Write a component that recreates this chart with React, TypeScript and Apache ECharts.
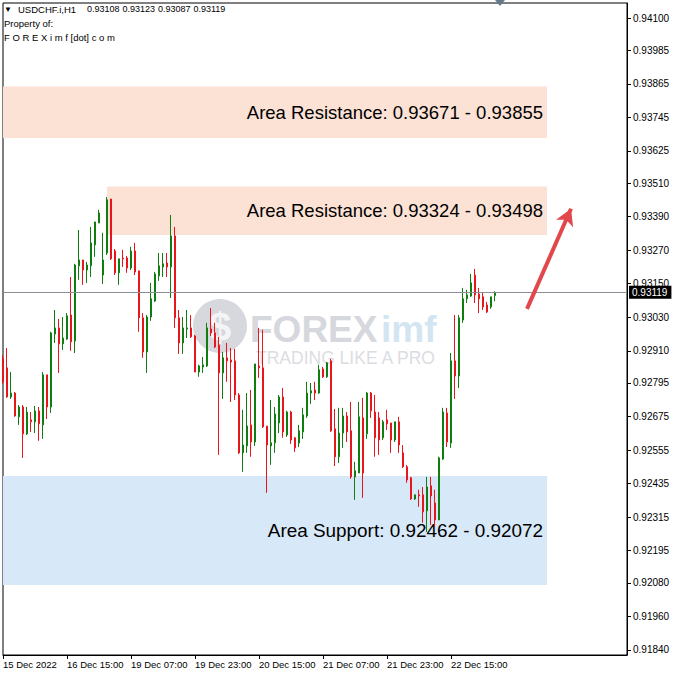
import React, { useEffect, useRef } from "react";
import * as echarts from "echarts";

// ---- Data ----
const opens = [
  0.92881, 0.92849, 0.92745, 0.92759, 0.92674, 0.92709, 0.92613, 0.92663, 0.92656, 0.92695,
  0.92645, 0.92824, 0.92709, 0.92970, 0.92992, 0.92935, 0.92952, 0.93038, 0.92945, 0.93214,
  0.93235, 0.93199, 0.93214, 0.93289, 0.93367, 0.93181, 0.93260, 0.93453, 0.93267, 0.93189,
  0.93242, 0.93242, 0.93206, 0.93267, 0.93196, 0.93028, 0.92906, 0.93031, 0.93088, 0.93178,
  0.93210, 0.93224, 0.93210, 0.93321, 0.93028, 0.92938, 0.92988, 0.92992, 0.92963, 0.92834,
  0.92852, 0.92856, 0.92988, 0.92974, 0.92931, 0.92831, 0.92885, 0.92877, 0.92874, 0.92752,
  0.92545, 0.92570, 0.92645, 0.92584, 0.92856, 0.92849, 0.92641, 0.92570, 0.92581, 0.92652,
  0.92745, 0.92609, 0.92691, 0.92599, 0.92580, 0.92620, 0.92677, 0.92759, 0.92770, 0.92759,
  0.92845, 0.92817, 0.92874, 0.92631, 0.92531, 0.92616, 0.92677, 0.92624, 0.92459, 0.92473,
  0.92670, 0.92613, 0.92759, 0.92691, 0.92670, 0.92599, 0.92663, 0.92652, 0.92591, 0.92656,
  0.92545, 0.92495, 0.92456, 0.92380, 0.92395, 0.92395, 0.92338, 0.92427, 0.92366, 0.92305,
  0.92523, 0.92688, 0.92580, 0.92874, 0.92820, 0.93020, 0.93096, 0.93106, 0.93181, 0.93113,
  0.93103, 0.93074, 0.93067, 0.93108,
];
const highs = [
  0.92895, 0.92920, 0.92834, 0.92762, 0.92716, 0.92716, 0.92709, 0.92691, 0.92713, 0.92709,
  0.92834, 0.92824, 0.92978, 0.93056, 0.93024, 0.93031, 0.93045, 0.93174, 0.93221, 0.93342,
  0.93235, 0.93228, 0.93353, 0.93371, 0.93414, 0.93332, 0.93460, 0.93453, 0.93274, 0.93239,
  0.93271, 0.93249, 0.93282, 0.93296, 0.93196, 0.93045, 0.93038, 0.93153, 0.93192, 0.93260,
  0.93260, 0.93260, 0.93396, 0.93353, 0.93056, 0.93031, 0.93056, 0.93038, 0.92967, 0.92860,
  0.92888, 0.93010, 0.93063, 0.93010, 0.92960, 0.92906, 0.92938, 0.92920, 0.92917, 0.92759,
  0.92699, 0.92759, 0.92770, 0.92863, 0.92992, 0.92985, 0.92641, 0.92734, 0.92709, 0.92752,
  0.92777, 0.92695, 0.92695, 0.92602, 0.92645, 0.92706, 0.92799, 0.92795, 0.92799, 0.92860,
  0.92852, 0.92870, 0.92881, 0.92702, 0.92706, 0.92706, 0.92691, 0.92727, 0.92513, 0.92727,
  0.92742, 0.92763, 0.92763, 0.92752, 0.92691, 0.92663, 0.92699, 0.92652, 0.92656, 0.92674,
  0.92573, 0.92502, 0.92459, 0.92395, 0.92413, 0.92423, 0.92459, 0.92459, 0.92413, 0.92531,
  0.92706, 0.92706, 0.92902, 0.93038, 0.93038, 0.93135, 0.93128, 0.93185, 0.93203, 0.93135,
  0.93117, 0.93085, 0.93103, 0.93123,
];
const lows = [
  0.92792, 0.92742, 0.92738, 0.92674, 0.92645, 0.92527, 0.92609, 0.92620, 0.92616, 0.92588,
  0.92595, 0.92666, 0.92688, 0.92938, 0.92831, 0.92913, 0.92949, 0.92910, 0.92902, 0.93164,
  0.93146, 0.93153, 0.93174, 0.93246, 0.93367, 0.93149, 0.93253, 0.93235, 0.93181, 0.93146,
  0.93210, 0.93189, 0.93199, 0.93181, 0.92978, 0.92885, 0.92831, 0.93017, 0.93085, 0.93160,
  0.93174, 0.93174, 0.93099, 0.92992, 0.92899, 0.92899, 0.92956, 0.92956, 0.92834, 0.92817,
  0.92831, 0.92852, 0.92963, 0.92920, 0.92538, 0.92738, 0.92799, 0.92727, 0.92734, 0.92541,
  0.92477, 0.92545, 0.92531, 0.92570, 0.92813, 0.92634, 0.92402, 0.92502, 0.92545, 0.92616,
  0.92599, 0.92602, 0.92577, 0.92548, 0.92566, 0.92595, 0.92670, 0.92720, 0.92734, 0.92756,
  0.92813, 0.92813, 0.92620, 0.92498, 0.92509, 0.92563, 0.92584, 0.92452, 0.92377, 0.92473,
  0.92384, 0.92595, 0.92670, 0.92531, 0.92538, 0.92591, 0.92627, 0.92545, 0.92584, 0.92545,
  0.92491, 0.92438, 0.92377, 0.92377, 0.92352, 0.92295, 0.92262, 0.92287, 0.92280, 0.92305,
  0.92520, 0.92566, 0.92563, 0.92738, 0.92777, 0.93010, 0.93081, 0.93103, 0.93081, 0.93045,
  0.93056, 0.93045, 0.93060, 0.93087,
];
const closes = [
  0.92799, 0.92745, 0.92759, 0.92677, 0.92709, 0.92613, 0.92691, 0.92656, 0.92695, 0.92649,
  0.92824, 0.92709, 0.92974, 0.92992, 0.92935, 0.92956, 0.93035, 0.92942, 0.93217, 0.93235,
  0.93199, 0.93217, 0.93296, 0.93371, 0.93403, 0.93235, 0.93450, 0.93239, 0.93189, 0.93239,
  0.93239, 0.93206, 0.93267, 0.93192, 0.93028, 0.92906, 0.93031, 0.93096, 0.93185, 0.93214,
  0.93221, 0.93210, 0.93321, 0.93028, 0.92938, 0.92992, 0.92992, 0.92960, 0.92834, 0.92856,
  0.92860, 0.92992, 0.92974, 0.92924, 0.92831, 0.92885, 0.92874, 0.92870, 0.92752, 0.92545,
  0.92573, 0.92641, 0.92584, 0.92863, 0.92849, 0.92638, 0.92573, 0.92581, 0.92684, 0.92745,
  0.92620, 0.92691, 0.92591, 0.92563, 0.92624, 0.92681, 0.92759, 0.92767, 0.92759, 0.92842,
  0.92817, 0.92867, 0.92624, 0.92531, 0.92616, 0.92677, 0.92620, 0.92459, 0.92481, 0.92674,
  0.92473, 0.92759, 0.92695, 0.92599, 0.92591, 0.92656, 0.92649, 0.92591, 0.92656, 0.92573,
  0.92495, 0.92448, 0.92380, 0.92395, 0.92391, 0.92334, 0.92423, 0.92391, 0.92305, 0.92527,
  0.92691, 0.92584, 0.92874, 0.92820, 0.93028, 0.93096, 0.93110, 0.93153, 0.93110, 0.93096,
  0.93067, 0.93049, 0.93103, 0.93119,
];

const yTickValues = [
  0.941, 0.93985, 0.93865, 0.93745, 0.93625, 0.9351, 0.9339, 0.9327, 0.9315, 0.9303,
  0.9291, 0.92795, 0.92675, 0.92555, 0.92435, 0.92315, 0.92195, 0.9208, 0.9196, 0.9184,
];
const xTickLabels = [
  "15 Dec 2022", "16 Dec 15:00", "19 Dec 07:00", "19 Dec 23:00",
  "20 Dec 15:00", "21 Dec 07:00", "21 Dec 23:00", "22 Dec 15:00",
];
const resistanceUpper = { low: 0.93671, high: 0.93855, fromBar: 0, toBar: 136 };
const resistanceLower = { low: 0.93324, high: 0.93498, fromBar: 26, toBar: 136 };
const supportZone = { low: 0.92072, high: 0.92462, fromBar: 0, toBar: 136 };
const currentPrice = 0.93119;
const arrowFrom = { bar: 131, price: 0.9306 };
const arrowTo = { bar: 142, price: 0.93418 };
const symbolName = "USDCHF.i,H1";
const headerValues = [0.93108, 0.93123, 0.93087, 0.93119];

const TOTAL_SLOTS = 157;
const LABEL_STEP = 16;
const Y_MIN = 0.91822;
const Y_MAX = 0.94154;

const MONTHS = ["Jan","Feb","Mar","Apr","May","Jun","Jul","Aug","Sep","Oct","Nov","Dec"];
function buildTimes(count: number): string[] {
  const out: string[] = [];
  let t = Date.UTC(2022, 11, 15, 23);
  while (out.length < count) {
    const d = new Date(t);
    const wd = d.getUTCDay();
    if (wd !== 0 && wd !== 6) {
      const hh = String(d.getUTCHours()).padStart(2, "0");
      out.push(`${d.getUTCDate()} ${MONTHS[d.getUTCMonth()]} ${hh}:00`);
    }
    t += 3600000;
  }
  return out;
}

const GREEN = "#0f7d0f";
const RED = "#e8161b";
const FONT = "Liberation Sans, Arial, sans-serif";

export default function App() {
  const ref = useRef<HTMLDivElement>(null);
  useEffect(() => {
    if (!ref.current) return;
    const chart = echarts.init(ref.current, undefined, { renderer: "svg" });
    const categories = buildTimes(TOTAL_SLOTS);
    const candles = opens.map((o, i) => [o, closes[i], lows[i], highs[i]]);
    const isLabelIdx = (i: number) => i % LABEL_STEP === 0 && i / LABEL_STEP < xTickLabels.length;

    const zoneLabel = (text: string, size: number) => ({
      show: true,
      position: "insideRight",
      distance: 4,
      formatter: text,
      color: "#000",
      fontSize: size,
      fontFamily: FONT,
    });
    const fmt = (v: number) => v.toFixed(5);
    const headerStyle = (text: string, size: number) => ({ text, fill: "#000", fontSize: size, fontFamily: FONT, verticalAlign: "middle" });

    const option: any = {
      animation: false,
      backgroundColor: "#ffffff",
      grid: {
        left: 3, right: 46, top: 3, bottom: 18,
        show: true, borderColor: "#000", borderWidth: 1, backgroundColor: "transparent",
      },
      xAxis: {
        type: "category",
        data: categories,
        boundaryGap: false,
        axisLine: { show: true, lineStyle: { color: "#000", width: 1 } },
        axisTick: { show: true, interval: (i: number) => isLabelIdx(i), length: 4, lineStyle: { color: "#000" } },
        axisLabel: {
          interval: (i: number) => isLabelIdx(i),
          formatter: (_v: string, i: number) => xTickLabels[i / LABEL_STEP] ?? "",
          align: "left",
          color: "#000",
          fontSize: 9.5,
          fontFamily: FONT,
          margin: 4,
        },
        splitLine: { show: false },
      },
      yAxis: {
        type: "value",
        position: "right",
        min: Y_MIN,
        max: Y_MAX,
        axisLine: { show: true, lineStyle: { color: "#000", width: 1 } },
        axisTick: { show: true, customValues: yTickValues, length: 4, lineStyle: { color: "#000" } },
        axisLabel: {
          customValues: yTickValues,
          formatter: (v: number) => fmt(v),
          color: "#000",
          fontSize: 10,
          fontFamily: FONT,
          margin: 6,
        },
        splitLine: { show: false },
      },
      graphic: [
        // watermark
        { type: "circle", z: 0, shape: { cx: 220, cy: 326, r: 27 }, style: { fill: "#d6d8de" } },
        { type: "text", z: 0, x: 220, y: 327, style: { text: "$", fill: "#f4f4f6", fontSize: 40, fontWeight: "bold", fontFamily: FONT, align: "center", verticalAlign: "middle" } },
        { type: "text", z: 0, x: 250, y: 329, style: { text: "FOREX", fill: "#d6d8de", fontSize: 37, lineHeight: 34, fontWeight: "bold", fontFamily: FONT, verticalAlign: "middle" } },
        { type: "text", z: 0, x: 381, y: 329, style: { text: "imf", fill: "#d3e5f1", fontSize: 37, lineHeight: 34, fontWeight: "bold", fontFamily: FONT, verticalAlign: "middle" } },
        { type: "text", z: 0, x: 256, y: 358, style: { text: "TRADING LIKE A PRO", fill: "#dcdde2", fontSize: 17.5, lineHeight: 16, fontFamily: FONT, verticalAlign: "middle" } },
        // header
        { type: "text", z: 10, x: 4, y: 9, style: { text: "▼", fill: "#000", fontSize: 8, fontFamily: FONT, verticalAlign: "middle" } },
        { type: "text", z: 10, x: 18, y: 9, style: headerStyle(symbolName, 9.5) },
        ...headerValues.map((v, i) => ({ type: "text", z: 10, x: 87 + i * 35.5, y: 9, style: headerStyle(fmt(v), 9) })),
        { type: "text", z: 10, x: 4, y: 23, style: headerStyle("Property of:", 9.5) },
        { type: "text", z: 10, x: 4, y: 37, style: headerStyle("F O R E X i m f [dot] c o m", 9.5) },
        // shift marker
        { type: "polygon", z: 10, shape: { points: [[495, 0], [505, 0], [500, 6]] }, style: { fill: "#66788c" } },
      ],
      series: [
        {
          type: "line",
          data: [],
          z: 1,
          silent: true,
          markArea: {
            silent: true,
            data: [
              [
                { xAxis: resistanceUpper.fromBar, yAxis: resistanceUpper.high, itemStyle: { color: "#fce2d5" }, label: zoneLabel(`Area Resistance: ${fmt(resistanceUpper.low)} - ${fmt(resistanceUpper.high)}`, 18.5) },
                { xAxis: resistanceUpper.toBar, yAxis: resistanceUpper.low },
              ],
              [
                { xAxis: resistanceLower.fromBar, yAxis: resistanceLower.high, itemStyle: { color: "#fce2d5" }, label: zoneLabel(`Area Resistance: ${fmt(resistanceLower.low)} - ${fmt(resistanceLower.high)}`, 18.5) },
                { xAxis: resistanceLower.toBar, yAxis: resistanceLower.low },
              ],
              [
                { xAxis: supportZone.fromBar, yAxis: supportZone.high, itemStyle: { color: "#d7e8f8" }, label: zoneLabel(`Area Support: ${fmt(supportZone.high)} - ${fmt(supportZone.low)}`, 18.9) },
                { xAxis: supportZone.toBar, yAxis: supportZone.low },
              ],
            ],
          },
          markLine: {
            silent: true,
            precision: 5,
            symbol: ["none", "none"],
            label: { show: false },
            data: [
              {
                yAxis: currentPrice,
                lineStyle: { color: "#8a8f96", width: 1, type: "solid" },
                label: {
                  show: true, position: "end", distance: 2, formatter: fmt(currentPrice),
                  backgroundColor: "#000", color: "#fff", fontSize: 10, fontFamily: FONT,
                  padding: [2, 4, 1, 3],
                },
              },
              [
                { coord: [arrowFrom.bar, arrowFrom.price], symbol: "none", lineStyle: { color: "#e2474b", width: 4, type: "solid" } },
                { coord: [arrowTo.bar, arrowTo.price], symbol: "arrow", symbolSize: [14, 16] },
              ],
            ],
          },
        },
        {
          type: "candlestick",
          z: 3,
          barWidth: 2,
          data: candles,
          itemStyle: { color: GREEN, color0: RED, borderColor: GREEN, borderColor0: RED, borderWidth: 1 },
        },
      ],
    };
    chart.setOption(option);
    return () => chart.dispose();
  }, []);
  return (
    <div
      ref={ref}
      style={{ position: "absolute", left: 0, top: 0, width: 673, height: 673, background: "#fff" }}
    />
  );
}
